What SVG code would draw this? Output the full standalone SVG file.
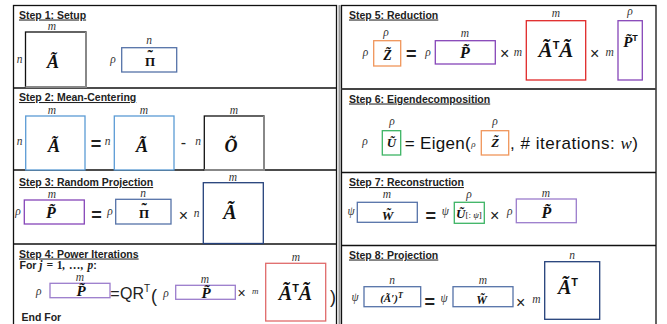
<svg xmlns="http://www.w3.org/2000/svg" width="667" height="324" viewBox="0 0 667 324">
<style>
.t{font:bold 10.5px "Liberation Sans",Arial,sans-serif;text-decoration:underline;fill:#222}
.b{font:bold 10.5px "Liberation Sans",Arial,sans-serif;fill:#222}
.d{font:italic 11.5px "Liberation Serif","DejaVu Serif",serif;fill:#333;text-anchor:middle}
.ds{font:italic 9px "Liberation Serif","DejaVu Serif",serif;fill:#333;text-anchor:middle}
.m{font:bold italic 18px "Liberation Serif","DejaVu Serif",serif;fill:#111;text-anchor:middle}
.u{font:bold 13px "Liberation Serif","DejaVu Serif",serif;fill:#111}
.o{font:16px "Liberation Sans",Arial,sans-serif;fill:#222;text-anchor:middle}
.ob{font:bold 18px "Liberation Sans",Arial,sans-serif;fill:#222;text-anchor:middle}
.big{font:17px "Liberation Sans",Arial,sans-serif;fill:#111}
.sup{font:bold 10px "Liberation Sans",Arial,sans-serif}
.bx{fill:#fff;stroke-width:1.3}
.k{stroke:#111}
.lb{stroke:#5b9bd5}
.sb{stroke:#5572a8}
.nv{stroke:#24407a}
.pu{stroke:#8646b8}
.pu2{stroke:#9b7ccc}
.rd{stroke:#e02828}
.rd2{stroke:#e06a6a}
.or{stroke:#f0955a}
.gr{stroke:#3cb464}
.sh{fill:none;stroke:#888;stroke-width:2}
.pl{fill:none;stroke:#111;stroke-width:1.3}
</style>
<g id="panels">
<rect x="13.5" y="5.5" width="323" height="330" class="pl"/>
<line x1="13.5" y1="88" x2="336.5" y2="88" class="pl"/>
<line x1="13.5" y1="170" x2="336.5" y2="170" class="pl"/>
<line x1="13.5" y1="244" x2="336.5" y2="244" class="pl"/>
<line x1="339.5" y1="5" x2="339.5" y2="324" stroke="#999" stroke-width="2"/>
<rect x="341.5" y="5.5" width="314.5" height="330" class="pl"/>
<line x1="341.5" y1="89" x2="656" y2="89" stroke="#444" stroke-width="2"/>
<line x1="341.5" y1="172.5" x2="656" y2="172.5" class="pl"/>
<line x1="341.5" y1="245.5" x2="656" y2="245.5" class="pl"/>
</g>
<g id="connectors"/>
<g id="step1">
<text x="19" y="18.5" class="t">Step 1: Setup</text>
<rect x="25.5" y="32" width="60.5" height="55" class="bx k" stroke-width="1"/>
<polyline points="86,32 86,87 25.5,87" class="sh"/>
<text x="52" y="30" class="d">m</text>
<text x="19.5" y="62.5" class="d">n</text>
<text x="53" y="68" class="m">Ã</text>
<rect x="121.7" y="47.7" width="55" height="24.3" class="bx sb"/>
<text x="149" y="44" class="d">n</text>
<text x="113" y="63" class="d">ρ</text>
<text x="145" y="65.7" class="u">Π<tspan dx="-7.7" dy="-3.5" style="font-size:16px">˜</tspan></text>
</g>
<g id="step2">
<text x="19" y="101" class="t">Step 2: Mean-Centering</text>
<rect x="25.7" y="116" width="59.3" height="54" class="bx lb"/>
<text x="52" y="114" class="d">m</text>
<text x="19.5" y="145" class="d">n</text>
<text x="54" y="152" class="m">Ã</text>
<text x="96" y="150" class="ob">=</text>
<text x="107.5" y="145" class="d">n</text>
<rect x="114.3" y="116" width="59.7" height="54" class="bx lb"/>
<text x="144" y="114" class="d">m</text>
<text x="142" y="152" class="m">Ã</text>
<text x="183.5" y="148" class="o">-</text>
<text x="198" y="145" class="d">n</text>
<rect x="204.3" y="116" width="59.7" height="54" class="bx k" stroke-width="1"/>
<polyline points="264,116 264,170 204.3,170" class="sh"/>
<text x="234" y="114" class="d">m</text>
<text x="231" y="152" class="m">Õ</text>
</g>
<g id="step3">
<text x="19" y="186" class="t">Step 3: Random Projection</text>
<rect x="24.3" y="200" width="60" height="24" class="bx pu"/>
<text x="52" y="197.5" class="d">m</text>
<text x="18" y="215" class="d">ρ</text>
<text x="51" y="218.3" class="m" style="font-size:16px">P̃</text>
<text x="96.5" y="221" class="ob">=</text>
<text x="110" y="215" class="d">ρ</text>
<rect x="115.7" y="199.3" width="55.3" height="24.7" class="bx sb"/>
<text x="143" y="196.5" class="d">n</text>
<text x="139" y="218.3" class="u">Π<tspan dx="-7.7" dy="-3.5" style="font-size:16px">˜</tspan></text>
<text x="183.3" y="221" class="o">×</text>
<text x="196.7" y="216.5" class="d">n</text>
<rect x="203.3" y="182.7" width="60" height="60.8" class="bx nv"/>
<text x="233" y="181" class="d">m</text>
<text x="230" y="218.5" class="m" style="font-size:20px">Ã</text>
</g>
<g id="step4">
<text x="19" y="257.5" class="t">Step 4: Power Iterations</text>
<text x="19.5" y="268.5" class="b">For <tspan style="font:bold italic 11.5px 'Liberation Serif',serif" word-spacing="1">j = <tspan font-style="normal">1</tspan>, …, p</tspan>:</text>
<rect x="50" y="283.3" width="60" height="14.4" class="bx pu2"/>
<text x="80" y="281" class="d">m</text>
<text x="38.7" y="295" class="d">ρ</text>
<text x="81" y="295.5" class="m" style="font-size:15px">P̃</text>
<text x="115" y="299" class="o">=</text>
<text x="120" y="299" class="o" style="text-anchor:start">QR<tspan style="font-size:10px" dy="-7">T</tspan></text>
<text x="151" y="302" class="o" style="text-anchor:start;font-size:18px">(</text>
<text x="166" y="297" class="d">ρ</text>
<rect x="175.7" y="285.3" width="59.6" height="14" class="bx pu2"/>
<text x="205" y="283" class="d">m</text>
<text x="206" y="297.5" class="m" style="font-size:15px">P̃</text>
<text x="241.7" y="298" class="o" style="font-size:14px">×</text>
<text x="255.3" y="294" class="ds">m</text>
<rect x="265.7" y="263.3" width="60" height="57.7" class="bx rd2"/>
<text x="296" y="261" class="d">m</text>
<text x="295.5" y="300" class="m" style="font-size:20px">Ã<tspan class="sup" style="font-size:11px" dy="-8">T</tspan><tspan dy="8">Ã</tspan></text>
<text x="330" y="302.5" class="o" style="text-anchor:start;font-size:18px">)</text>
<text x="21.5" y="321" class="b">End For</text>
</g>
<g id="step5">
<text x="349" y="18.5" class="t">Step 5: Reduction</text>
<rect x="373.7" y="40.7" width="27" height="25.3" class="bx or"/>
<text x="386" y="36" class="d">ρ</text>
<text x="365.5" y="56" class="d">ρ</text>
<text x="387.5" y="60" class="m" style="font-size:14px">Z̃</text>
<text x="411.3" y="59.5" class="ob">=</text>
<text x="428" y="56" class="d">ρ</text>
<rect x="435.3" y="40.7" width="60" height="23.3" class="bx pu"/>
<text x="465" y="36.7" class="d">m</text>
<text x="465" y="57.5" class="m" style="font-size:16px">P̃</text>
<text x="504.7" y="59" class="o">×</text>
<text x="518" y="56" class="d">m</text>
<rect x="526.3" y="20.7" width="59.4" height="59.3" class="bx rd"/>
<text x="556" y="17.3" class="d">m</text>
<text x="556" y="57" class="m" style="font-size:21px">Ã<tspan class="sup" style="font-size:11px" dy="-8">T</tspan><tspan dy="8">Ã</tspan></text>
<text x="594.7" y="59" class="o">×</text>
<text x="609.7" y="56" class="d">m</text>
<rect x="618" y="20.7" width="24.3" height="59.3" class="bx pu"/>
<text x="630" y="15" class="d">ρ</text>
<text x="630.5" y="47" class="m" style="font-size:15px">P̃<tspan class="sup" style="font-size:9px" dy="-6">T</tspan></text>
</g>
<g id="step6">
<text x="349" y="102.5" class="t">Step 6: Eigendecomposition</text>
<rect x="382.3" y="130.7" width="18.4" height="24.3" class="bx gr"/>
<text x="392" y="125" class="d">ρ</text>
<text x="365" y="145" class="d">ρ</text>
<text x="391.5" y="146.7" class="m" style="font-size:13px">Ũ</text>
<text x="404.7" y="149.3" class="big" textLength="66">= Eigen(</text>
<text x="473.5" y="147" class="ds">ρ</text>
<rect x="481.3" y="130.7" width="27.4" height="24.3" class="bx or"/>
<text x="495" y="125" class="d">ρ</text>
<text x="495.3" y="146.7" class="m" style="font-size:13px">Z̃</text>
<text x="510" y="149.3" class="big" textLength="128">, # iterations: <tspan style="font-family:'Liberation Serif',serif;font-style:italic">w</tspan>)</text>
</g>
<g id="step7">
<text x="349" y="186" class="t">Step 7: Reconstruction</text>
<text x="351" y="215" class="d">ψ</text>
<rect x="357.3" y="202.3" width="60" height="20" class="bx sb"/>
<text x="387" y="197.7" class="d">m</text>
<text x="387.5" y="219.5" class="m" style="font-size:13px">W̃</text>
<text x="430.7" y="221.5" class="ob">=</text>
<text x="445.3" y="215" class="d">ψ</text>
<rect x="454.3" y="202.3" width="30" height="21" class="bx gr"/>
<text x="469" y="197.5" class="d">ρ</text>
<text x="456" y="218.3" class="m" style="font-size:13px;text-anchor:start">Ũ<tspan style="font:9px 'Liberation Serif',serif">[: <tspan font-style="italic">ψ</tspan>]</tspan></text>
<text x="494.7" y="221" class="o">×</text>
<text x="509.7" y="215" class="d">ρ</text>
<rect x="516.3" y="199" width="60" height="23.7" class="bx pu2"/>
<text x="546" y="196.7" class="d">m</text>
<text x="546.5" y="218.3" class="m" style="font-size:16px">P̃</text>
</g>
<g id="step8">
<text x="349" y="258.5" class="t">Step 8: Projection</text>
<text x="355" y="301" class="d">ψ</text>
<rect x="364" y="286.7" width="56.7" height="20" class="bx sb"/>
<text x="392" y="284" class="d">n</text>
<text x="391.5" y="302" class="m" style="font-size:11px">(Ã′)<tspan dy="-4" style="font-size:8px">T</tspan></text>
<text x="429.7" y="308" class="ob">=</text>
<text x="444" y="302" class="d">ψ</text>
<rect x="453" y="286.7" width="60" height="20" class="bx sb"/>
<text x="483" y="284" class="d">m</text>
<text x="481.5" y="304" class="m" style="font-size:12px">W̃</text>
<text x="520.7" y="308" class="o">×</text>
<text x="536.3" y="303" class="d">m</text>
<rect x="544.7" y="261.7" width="55" height="57.6" class="bx nv"/>
<text x="572" y="259" class="d">n</text>
<text x="568" y="293.5" class="m" style="font-size:20px">Ã<tspan class="sup" style="font-size:11px" dy="-8">T</tspan></text>
</g>
</svg>
